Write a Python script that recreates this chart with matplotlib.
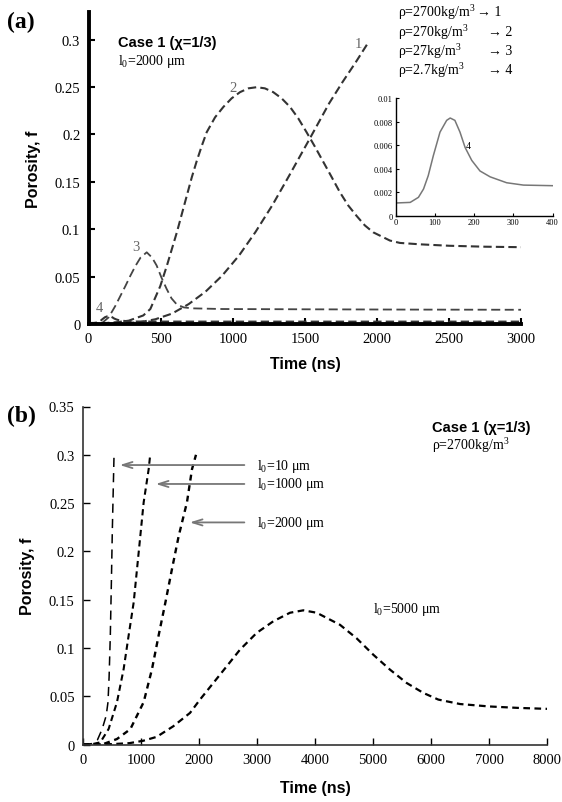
import numpy as np
import matplotlib
matplotlib.use("Agg")
import matplotlib.pyplot as plt

SERIF = ['Liberation Serif', 'DejaVu Serif']
SANS = ['Liberation Sans', 'DejaVu Sans']
plt.rcParams['font.family'] = SERIF
plt.rcParams['mathtext.fontset'] = 'custom'
plt.rcParams['mathtext.rm'] = 'Liberation Serif'
plt.rcParams['mathtext.it'] = 'Liberation Serif:italic'
plt.rcParams['mathtext.bf'] = 'Liberation Serif:bold'

# ---- panel (a): l0 = 2000 um, four densities ----
a_t1 = [0, 231, 347, 463, 579, 694, 810, 926, 1042, 1157, 1273, 1389, 1528, 1669, 1760, 1852, 1944]
a_f1 = [0.0008, 0.001, 0.0017, 0.005, 0.011, 0.021, 0.034, 0.051, 0.072, 0.097, 0.125, 0.156, 0.194, 0.233, 0.255, 0.276, 0.298]

a_t2 = [0, 116, 200, 278, 379, 428, 497, 543, 612, 681, 716, 750, 785, 819, 877, 935, 992, 1050, 1108, 1165,
        1222, 1280, 1338, 1396, 1453, 1511, 1569, 1627, 1685, 1742, 1800, 1858, 1915, 1973, 2089, 2158, 2300,
        2500, 2750, 3000]
a_f2 = [0.0008, 0.001, 0.002, 0.0035, 0.009, 0.0158, 0.040, 0.0616, 0.0967, 0.1354, 0.155, 0.172, 0.188, 0.2023,
        0.218, 0.229, 0.238, 0.2445, 0.2485, 0.2497, 0.2485, 0.2445, 0.238, 0.229, 0.217, 0.2023, 0.187, 0.171,
        0.155, 0.139, 0.125, 0.114, 0.104, 0.0967, 0.088, 0.0855, 0.084, 0.0825, 0.0815, 0.081]

a_t3 = [0, 93, 139, 185, 255, 290, 324, 360, 403, 440, 472, 505, 541, 575, 612, 660, 721, 926, 1500, 2200, 3000]
a_f3 = [0.0008, 0.001, 0.007, 0.019, 0.040, 0.051, 0.061, 0.070, 0.0756, 0.070, 0.0616, 0.049, 0.037, 0.027,
        0.0205, 0.0175, 0.0165, 0.0158, 0.0155, 0.0152, 0.015]

# rho = 2.7 kg/m3 (also shown in the inset)
a_t4 = [0, 37, 58, 71, 83, 96, 113, 130, 139, 151, 164, 177, 194, 215, 241, 283, 326, 400, 1000, 2000, 3000]
a_f4 = [0.00108, 0.00113, 0.00156, 0.00227, 0.0034, 0.0051, 0.0071, 0.0081, 0.0083, 0.0081, 0.0071, 0.0058,
        0.0047, 0.0038, 0.0033, 0.0028, 0.0026, 0.00255, 0.0025, 0.0025, 0.0025]

a_xticks = [0, 500, 1000, 1500, 2000, 2500, 3000]
a_yticks = [0, 0.05, 0.1, 0.15, 0.2, 0.25, 0.3]
a_ylabels = ['0', '0.05', '0.1', '0.15', '0.2', '0.25', '0.3']
ins_xticks = [0, 100, 200, 300, 400]
ins_yticks = [0, 0.002, 0.004, 0.006, 0.008, 0.01]
ins_ylabels = ['0', '0.002', '0.004', '0.006', '0.008', '0.01']
legend_rows = ['ρ=2700kg/m$^3$', 'ρ=270kg/m$^3$', 'ρ=27kg/m$^3$', 'ρ=2.7kg/m$^3$']
legend_ids = ['1', '2', '3', '4']

# ---- panel (b): rho = 2700, four l0 ----
b_t10 = [0, 150, 250, 330, 400, 431, 450, 471, 490, 505, 520, 535]
b_f10 = [0, 0.001, 0.005, 0.016, 0.03, 0.044, 0.07, 0.113, 0.17, 0.22, 0.26, 0.3]

b_t1000 = [0, 126, 299, 442, 586, 701, 787, 874, 960, 1046, 1132, 1155]
b_f1000 = [0, 0, 0.0024, 0.0162, 0.044, 0.0783, 0.113, 0.1473, 0.199, 0.2508, 0.285, 0.298]

b_t2000 = [0, 356, 586, 816, 1046, 1189, 1304, 1420, 1535, 1650, 1793, 1879, 1948]
b_f2000 = [0, 0.0007, 0.0058, 0.016, 0.044, 0.078, 0.113, 0.147, 0.182, 0.216, 0.251, 0.285, 0.3]

b_t5000 = [0, 500, 800, 1040, 1270, 1557, 1845, 2017, 2247, 2477, 2707, 2994, 3282, 3569, 3799, 4029, 4431,
           4718, 5006, 5293, 5580, 5868, 6126, 6500, 7000, 7500, 8000]
b_f5000 = [0, 0.0005, 0.0015, 0.004, 0.008, 0.019, 0.0328, 0.0466, 0.0638, 0.081, 0.0983, 0.1156, 0.1277, 0.1365,
           0.139, 0.1365, 0.124, 0.110, 0.093, 0.0776, 0.0638, 0.0535, 0.0466, 0.042, 0.0395, 0.038, 0.037]

b_xticks = [0, 1000, 2000, 3000, 4000, 5000, 6000, 7000, 8000]
b_yticks = [0, 0.05, 0.1, 0.15, 0.2, 0.25, 0.3, 0.35]
b_ylabels = ['0', '0.05', '0.1', '0.15', '0.2', '0.25', '0.3', '0.35']
b_labels = ['l$_0$=10 μm', 'l$_0$=1000 μm', 'l$_0$=2000 μm']
b_label_f = [0.2894, 0.2698, 0.230]
b_arrow_tip = [586, 1207, 1793]

W, H = 562, 803


def fx(px):
    return px / W


def fy(py):
    return 1 - py / H


fig = plt.figure(figsize=(W / 100, H / 100), dpi=100)

# ================= panel (a) =================
ax = fig.add_axes([fx(88.6), fy(325), fx(521.3) - fx(88.6), fy(13) - fy(325)])
ax.plot(a_t1, a_f1, color='#333333', lw=1.5, dashes=(4, 2))
ax.plot(a_t2, a_f2, color='#333333', lw=1.5, dashes=(4, 2))
ax.plot(a_t3, a_f3, color='#444444', lw=1.3, dashes=(5, 2.5))
ax.plot(a_t4, a_f4, color='#333333', lw=1.5, dashes=(4, 2))
ax.set_xlim(0, 3000)
ax.set_ylim(0, 0.329)
for s in ['top', 'right']:
    ax.spines[s].set_visible(False)
for s in ['left', 'bottom']:
    ax.spines[s].set_linewidth(2.8)
    ax.spines[s].set_color('black')
ax.set_xticks(a_xticks)
ax.set_yticks(a_yticks)
ax.set_yticklabels(a_ylabels)
ax.tick_params(direction='in', length=4, width=1.5, labelsize=10.5, pad=6)
ax.set_xlabel('Time (ns)', family=SANS, fontweight='bold', fontsize=11.5, labelpad=8)
ax.set_ylabel('Porosity, f', family=SANS, fontweight='bold', fontsize=11.5, labelpad=10)

ax.text(204, 0.2976, 'Case 1 (χ=1/3)', family=SANS, fontweight='bold', fontsize=10.5, va='center')
ax.text(204, 0.2775, 'l$_0$=2000 μm', fontsize=10, va='center')
ax.text(1870, 0.296, '1', fontsize=10.5, color='#666666', ha='center', va='center')
ax.text(1000, 0.249, '2', fontsize=10.5, color='#666666', ha='center', va='center')
ax.text(329, 0.082, '3', fontsize=10.5, color='#666666', ha='center', va='center')
ax.text(74, 0.0175, '4', fontsize=10.5, color='#666666', ha='center', va='center')

for i, (row, num) in enumerate(zip(legend_rows, legend_ids)):
    y = fy(13 + i * 19.3)
    fig.text(fx(398), y, row, fontsize=10, va='center')
    fig.text(fx(477 if i == 0 else 488), y, '\u2192 ' + num, fontsize=10, va='center')

# inset
ins = fig.add_axes([fx(395.7), fy(216.7), fx(552.5) - fx(395.7), fy(99) - fy(216.7)])
ins.plot(a_t4, a_f4, color='#777777', lw=1.1)
ins.set_xlim(0, 400)
ins.set_ylim(0, 0.01)
for s in ['top', 'right']:
    ins.spines[s].set_visible(False)
for s in ['left', 'bottom']:
    ins.spines[s].set_linewidth(1.0)
ins.set_xticks(ins_xticks)
ins.set_yticks(ins_yticks)
ins.set_yticklabels(ins_ylabels)
ins.tick_params(direction='in', length=2.5, width=0.8, labelsize=6, pad=2)
ins.text(185, 0.006, '4', fontsize=7, ha='center', va='center')

fig.text(fx(7), fy(22), '(a)', fontweight='bold', fontsize=17, va='center')

# ================= panel (b) =================
bx = fig.add_axes([fx(83), fy(745.6), fx(547) - fx(83), fy(407.5) - fy(745.6)])
bx.plot(b_t10, b_f10, color='black', lw=1.1, dashes=(6, 4))
bx.plot(b_t1000, b_f1000, color='black', lw=1.5, dashes=(3, 2))
bx.plot(b_t2000, b_f2000, color='black', lw=1.7, dashes=(2.5, 2))
bx.plot(b_t5000, b_f5000, color='black', lw=1.6, dashes=(3, 2))
bx.set_xlim(0, 8000)
bx.set_ylim(0, 0.35)
for s in ['top', 'right']:
    bx.spines[s].set_visible(False)
for s in ['left', 'bottom']:
    bx.spines[s].set_linewidth(1.2)
    bx.spines[s].set_color('#333333')
bx.set_xticks(b_xticks)
bx.set_yticks(b_yticks)
bx.set_yticklabels(b_ylabels)
bx.tick_params(direction='in', length=5, width=1.0, labelsize=10.5, pad=6)
bx.set_xlabel('Time (ns)', family=SANS, fontweight='bold', fontsize=11.5, labelpad=10)
bx.set_ylabel('Porosity, f', family=SANS, fontweight='bold', fontsize=11.5, labelpad=10)

for lab, f, tip in zip(b_labels, b_label_f, b_arrow_tip):
    bx.annotate('', xy=(tip, f), xytext=(2830, f),
                arrowprops=dict(arrowstyle='->,head_length=0.7,head_width=0.22', color='#777777', lw=1.3))
    bx.text(3000, f, lab, fontsize=10, va='center')
bx.text(5000, 0.1404, 'l$_0$=5000 μm', fontsize=10, va='center')
bx.text(6017, 0.329, 'Case 1 (χ=1/3)', family=SANS, fontweight='bold', fontsize=10.5, va='center')
bx.text(6017, 0.311, 'ρ=2700kg/m$^3$', fontsize=10, va='center')

fig.text(fx(7), fy(416), '(b)', fontweight='bold', fontsize=17, va='center')

fig.savefig('out.png', dpi=100)
